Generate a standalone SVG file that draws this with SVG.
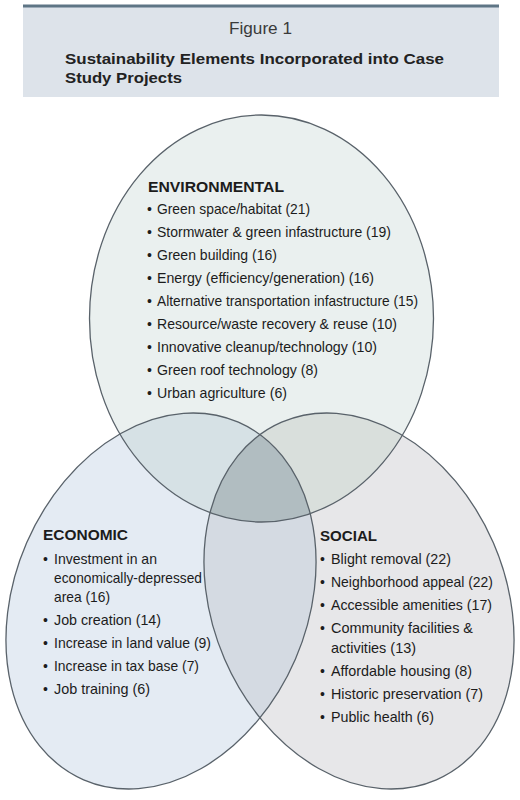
<svg xmlns="http://www.w3.org/2000/svg" xmlns:xlink="http://www.w3.org/1999/xlink" width="520" height="800" viewBox="0 0 520 800">
<style>
text{font-family:"Liberation Sans Narrow","Liberation Sans",Arial,sans-serif;fill:#1c1c1c;}
.fig{font-size:16px;fill:#3a3a3a;font-weight:300;}
.ttl{font-size:15.5px;font-weight:bold;fill:#222;}
.hd{font-size:15px;font-weight:bold;}
.it{font-size:14.5px;}
.b{font-size:14px;}
.ol{fill:none;stroke:#59626a;stroke-width:1.3;}
</style>
<defs>
<ellipse id="envE" cx="261.5" cy="318.5" rx="172" ry="203.5"/>
<ellipse id="ecoE" cx="161" cy="601" rx="146.4" ry="194.8" transform="rotate(23.4 161 601)"/>
<ellipse id="socE" cx="359" cy="601" rx="146.4" ry="194.8" transform="rotate(-23.4 359 601)"/>
<clipPath id="cEnv"><use xlink:href="#envE"/></clipPath>
<clipPath id="cEco"><use xlink:href="#ecoE"/></clipPath>
</defs>
<rect width="520" height="800" fill="#ffffff"/>
<g id="header">
<rect x="23" y="5" width="476" height="92" fill="#dde3ea"/>
<rect x="23" y="4.5" width="476" height="3" fill="#5e7585"/>
<text class="fig" x="260.5" y="34" text-anchor="middle" textLength="63" lengthAdjust="spacingAndGlyphs">Figure 1</text>
<text class="ttl" x="65" y="64" textLength="379" lengthAdjust="spacingAndGlyphs">Sustainability Elements Incorporated into Case</text>
<text class="ttl" x="65" y="83" textLength="117" lengthAdjust="spacingAndGlyphs">Study Projects</text>
</g>
<g id="regions">
<use xlink:href="#envE" fill="#eaf0ef"/>
<use xlink:href="#ecoE" fill="#e4ebf3"/>
<use xlink:href="#socE" fill="#e7e7e9"/>
<g clip-path="url(#cEnv)"><use xlink:href="#ecoE" fill="#d6e1e5"/><use xlink:href="#socE" fill="#d9dfdc"/></g>
<g clip-path="url(#cEco)"><use xlink:href="#socE" fill="#d4dae2"/></g>
<g clip-path="url(#cEnv)"><g clip-path="url(#cEco)"><use xlink:href="#socE" fill="#b1bdc1"/></g></g>
</g>
<g id="environmental">
<use xlink:href="#envE" class="ol"/>
<text class="hd" x="148" y="192" textLength="136" lengthAdjust="spacingAndGlyphs">ENVIRONMENTAL</text>
<text class="b" x="147" y="214">•</text><text class="it" x="157" y="214" textLength="153" lengthAdjust="spacingAndGlyphs">Green space/habitat (21)</text>
<text class="b" x="147" y="237">•</text><text class="it" x="157" y="237" textLength="234" lengthAdjust="spacingAndGlyphs">Stormwater &amp; green infastructure (19)</text>
<text class="b" x="147" y="260">•</text><text class="it" x="157" y="260" textLength="120" lengthAdjust="spacingAndGlyphs">Green building (16)</text>
<text class="b" x="147" y="283">•</text><text class="it" x="157" y="283" textLength="217" lengthAdjust="spacingAndGlyphs">Energy (efficiency/generation) (16)</text>
<text class="b" x="147" y="306">•</text><text class="it" x="157" y="306" textLength="261" lengthAdjust="spacingAndGlyphs">Alternative transportation infastructure (15)</text>
<text class="b" x="147" y="329">•</text><text class="it" x="157" y="329" textLength="240" lengthAdjust="spacingAndGlyphs">Resource/waste recovery &amp; reuse (10)</text>
<text class="b" x="147" y="352">•</text><text class="it" x="157" y="352" textLength="220" lengthAdjust="spacingAndGlyphs">Innovative cleanup/technology (10)</text>
<text class="b" x="147" y="375">•</text><text class="it" x="157" y="375" textLength="161" lengthAdjust="spacingAndGlyphs">Green roof technology (8)</text>
<text class="b" x="147" y="398">•</text><text class="it" x="157" y="398" textLength="130" lengthAdjust="spacingAndGlyphs">Urban agriculture (6)</text>
</g>
<g id="economic">
<use xlink:href="#ecoE" class="ol"/>
<text class="hd" x="43" y="540" textLength="85" lengthAdjust="spacingAndGlyphs">ECONOMIC</text>
<text class="b" x="43" y="564">•</text><text class="it" x="54" y="564" textLength="103" lengthAdjust="spacingAndGlyphs">Investment in an</text>
<text class="it" x="54" y="583" textLength="148" lengthAdjust="spacingAndGlyphs">economically-depressed</text>
<text class="it" x="54" y="602" textLength="56" lengthAdjust="spacingAndGlyphs">area (16)</text>
<text class="b" x="43" y="625">•</text><text class="it" x="54" y="625" textLength="107" lengthAdjust="spacingAndGlyphs">Job creation (14)</text>
<text class="b" x="43" y="648">•</text><text class="it" x="54" y="648" textLength="157" lengthAdjust="spacingAndGlyphs">Increase in land value (9)</text>
<text class="b" x="43" y="671">•</text><text class="it" x="54" y="671" textLength="145" lengthAdjust="spacingAndGlyphs">Increase in tax base (7)</text>
<text class="b" x="43" y="694">•</text><text class="it" x="54" y="694" textLength="96" lengthAdjust="spacingAndGlyphs">Job training (6)</text>
</g>
<g id="social">
<use xlink:href="#socE" class="ol"/>
<text class="hd" x="320" y="541" textLength="57" lengthAdjust="spacingAndGlyphs">SOCIAL</text>
<text class="b" x="320" y="564">•</text><text class="it" x="331" y="564" textLength="120" lengthAdjust="spacingAndGlyphs">Blight removal (22)</text>
<text class="b" x="320" y="587">•</text><text class="it" x="331" y="587" textLength="162" lengthAdjust="spacingAndGlyphs">Neighborhood appeal (22)</text>
<text class="b" x="320" y="610">•</text><text class="it" x="331" y="610" textLength="161" lengthAdjust="spacingAndGlyphs">Accessible amenities (17)</text>
<text class="b" x="320" y="633">•</text><text class="it" x="331" y="633" textLength="142" lengthAdjust="spacingAndGlyphs">Community facilities &amp;</text>
<text class="it" x="331" y="653" textLength="85" lengthAdjust="spacingAndGlyphs">activities (13)</text>
<text class="b" x="320" y="676">•</text><text class="it" x="331" y="676" textLength="141" lengthAdjust="spacingAndGlyphs">Affordable housing (8)</text>
<text class="b" x="320" y="699">•</text><text class="it" x="331" y="699" textLength="152" lengthAdjust="spacingAndGlyphs">Historic preservation (7)</text>
<text class="b" x="320" y="722">•</text><text class="it" x="331" y="722" textLength="103" lengthAdjust="spacingAndGlyphs">Public health (6)</text>
</g>
</svg>
